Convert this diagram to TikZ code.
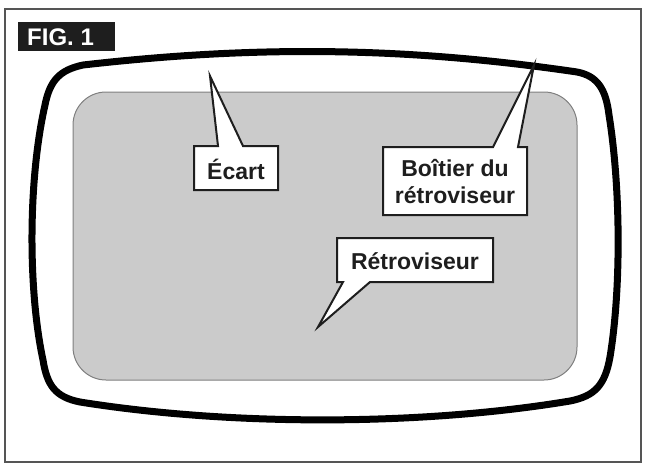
\documentclass[tikz,border=0pt]{standalone}
\usepackage{fontspec}
\setmainfont{Liberation Sans}
\definecolor{ink}{HTML}{1E1E1E}
\definecolor{framec}{HTML}{555555}
\definecolor{mirror}{HTML}{CBCBCB}
\definecolor{mirroredge}{HTML}{7F7F7F}
\tikzset{
  callbox/.style={fill=white, draw=ink, line width=2pt, line join=miter},
  lbl/.style={inner sep=0pt, text=ink, font=\bfseries\fontsize{23}{27}\selectfont, align=center},
}
\begin{document}
\begin{tikzpicture}[x=1pt,y=-1pt]
\useasboundingbox (0,0) rectangle (645,464);
% outer frame
\draw[framec, line width=2pt] (5,9) rectangle (641,462);
% FIG. 1 tag
\fill[ink] (18,22) rectangle (115,51);
\node[anchor=west, inner sep=0pt, text=white, font=\bfseries\fontsize{24}{28}\selectfont] (fig) at (27,37) {FIG. 1};
% mirror glass
\draw[fill=mirror, draw=mirroredge, line width=1pt, rounded corners=33pt] (73,92) rectangle (577,380);
% housing
\draw[black, line width=7pt, line join=round]
  (83,65) .. controls (250,46) and (400,46) .. (577,72)
  .. controls (598,76) and (606,90) .. (609,115)
  .. controls (621,190) and (621,290) .. (610,357)
  .. controls (605,385) and (595,396) .. (570,401)
  .. controls (420,426) and (230,426) .. (80,402)
  .. controls (55,397) and (47,385) .. (43,360)
  .. controls (28,290) and (28,180) .. (45,105)
  .. controls (50,80) and (60,70) .. (83,65) -- cycle;
% callouts
\draw[callbox] (194,146) -- (218,146) -- (210,76) -- (243,146) -- (278,146) -- (278,190) -- (194,190) -- cycle;
\node[lbl] (ecart) at (236,169) {Écart};
\draw[callbox] (383,147) -- (493,147) -- (534,65) -- (518,147) -- (527,147) -- (527,215) -- (383,215) -- cycle;
\node[lbl] (boitier) at (455,182) {Boîtier du\\rétroviseur};
\draw[callbox] (337,238) -- (493,238) -- (493,282) -- (370,282) -- (318,327) -- (343,282) -- (337,282) -- cycle;
\node[lbl] (retro) at (415,261) {Rétroviseur};
\end{tikzpicture}
\end{document}
